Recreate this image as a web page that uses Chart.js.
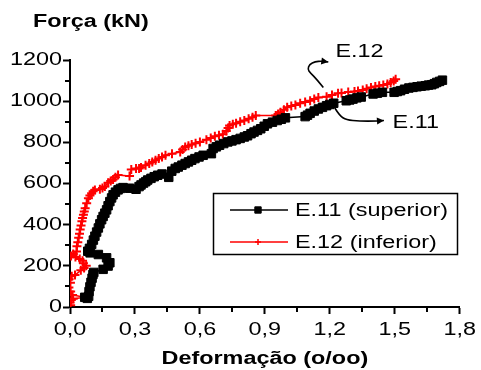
<!DOCTYPE html>
<html>
<head>
<meta charset="utf-8">
<script src="https://cdn.jsdelivr.net/npm/chart.js@4/dist/chart.umd.min.js"></script>
<style>
  html, body { margin: 0; padding: 0; background: #fff; }
  canvas { display: block; }
</style>
</head>
<body>
<canvas id="grafico" width="481" height="370"></canvas>
<script>
// E.11 (superior): deformação (o/oo) x força (kN)
const e11Deformacao = [0.068,0.080,0.086,0.088,0.092,0.097,0.102,0.106,0.110,0.153,0.176,0.184,0.169,0.131,0.093,0.082,0.090,0.100,0.108,0.115,0.123,0.131,0.138,0.146,0.153,0.161,0.169,0.176,0.184,0.192,0.199,0.210,0.222,0.233,0.245,0.275,0.305,0.319,0.328,0.340,0.350,0.359,0.374,0.389,0.405,0.425,0.456,0.470,0.486,0.500,0.517,0.532,0.547,0.562,0.577,0.596,0.615,0.653,0.661,0.676,0.691,0.710,0.729,0.748,0.767,0.786,0.805,0.820,0.836,0.850,0.866,0.881,0.897,0.912,0.935,0.957,0.976,0.995,1.086,1.097,1.109,1.128,1.147,1.166,1.185,1.200,1.218,1.276,1.292,1.307,1.325,1.345,1.400,1.420,1.443,1.497,1.512,1.527,1.545,1.565,1.584,1.603,1.622,1.641,1.656,1.671,1.683,1.694,1.707,1.720];
const e11Forca = [47,42,52,75,98,120,140,158,168,183,199,215,239,255,263,271,285,304,325,344,364,384,404,424,440,456,472,492,512,530,545,558,569,576,580,577,572,585,593,602,609,617,625,633,640,646,630,660,673,680,689,697,705,713,721,729,737,745,770,778,786,794,802,807,813,819,826,832,842,850,858,866,878,890,898,906,912,919,925,932,941,952,962,970,978,984,990,1002,1006,1010,1016,1020,1035,1039,1043,1043,1047,1051,1058,1064,1067,1070,1073,1075,1078,1080,1085,1091,1096,1102];

// E.12 (inferior): deformação (o/oo) x força (kN)
const e12Deformacao = [0.003,0.000,0.006,0.015,0.070,0.012,0.003,-0.005,0.002,-0.004,0.008,0.023,0.050,0.065,0.075,0.062,0.058,0.045,0.025,0.005,-0.008,0.015,0.030,0.032,0.036,0.040,0.044,0.047,0.051,0.055,0.058,0.062,0.066,0.070,0.077,0.085,0.092,0.100,0.107,0.115,0.138,0.150,0.161,0.176,0.188,0.199,0.210,0.222,0.275,0.283,0.305,0.319,0.328,0.349,0.366,0.380,0.395,0.410,0.425,0.441,0.471,0.509,0.520,0.532,0.547,0.562,0.580,0.600,0.630,0.650,0.669,0.688,0.706,0.722,0.730,0.737,0.752,0.767,0.786,0.805,0.825,0.843,0.858,0.950,0.961,0.972,0.988,1.003,1.022,1.041,1.063,1.086,1.109,1.128,1.147,1.185,1.210,1.238,1.254,1.285,1.314,1.330,1.352,1.370,1.390,1.410,1.428,1.447,1.466,1.481,1.495,1.504];
const e12Forca = [8,22,34,40,47,58,75,95,118,135,150,155,178,190,200,212,225,233,243,248,250,258,270,295,315,336,356,376,396,416,432,448,464,480,504,528,542,553,562,569,572,578,585,604,612,620,630,641,636,668,673,673,678,689,697,705,713,721,729,737,745,753,765,777,784,790,796,802,813,821,829,834,839,855,870,882,888,893,900,906,914,922,930,930,938,946,958,970,976,981,990,996,1002,1010,1018,1022,1030,1038,1040,1044,1047,1050,1054,1060,1067,1071,1075,1079,1083,1091,1098,1107];

const seriesLabels = ['E.11 (superior)', 'E.12 (inferior)'];
const xTickValues = [0, 0.3, 0.6, 0.9, 1.2, 1.5, 1.8];
const yTickValues = [0, 200, 400, 600, 800, 1000, 1200];
const xMinorTicks = [0.15, 0.45, 0.75, 1.05, 1.35, 1.65];
const yMinorTicks = [100, 300, 500, 700, 900, 1100];
const yTitle = 'Força (kN)';
const xTitle = 'Deformação (o/oo)';

// callout labels with their curved leader arrows (data units)
const e12Callout = { text: 'E.12', at: [1.226, 1239],
  path: [[1.170,1066],[1.139,1107],[1.109,1139],[1.098,1155],[1.106,1179],[1.132,1192],[1.162,1195],[1.193,1190]] };
const e11Callout = { text: 'E.11', at: [1.490, 892],
  path: [[1.223,967],[1.245,930],[1.276,909],[1.337,903],[1.413,903],[1.450,906]] };

const FONT = '"Liberation Sans", Arial, sans-serif';
const TEXT_STRETCH = 1.3;

const canvas = document.getElementById('grafico');
const ctx = canvas.getContext('2d');

// wide lettering: every string is drawn horizontally stretched around its anchor
const nativeFill = ctx.fillText;
const nativeMeasure = ctx.measureText;
ctx.fillText = function (text, x, y) {
  this.save();
  this.translate(x, y);
  this.scale(TEXT_STRETCH, 1);
  nativeFill.call(this, text, 0, 0);
  this.restore();
};
ctx.measureText = function (text) {
  const m = nativeMeasure.call(this, text);
  return {
    width: m.width * TEXT_STRETCH,
    actualBoundingBoxAscent: m.actualBoundingBoxAscent,
    actualBoundingBoxDescent: m.actualBoundingBoxDescent,
    actualBoundingBoxLeft: m.actualBoundingBoxLeft * TEXT_STRETCH,
    actualBoundingBoxRight: m.actualBoundingBoxRight * TEXT_STRETCH
  };
};

const toPoints = (xs, ys) => xs.map((x, i) => ({ x, y: ys[i] }));
const fmtComma = v => Number(v).toFixed(1).replace('.', ',');

function smoothPath(c, pts) {
  c.beginPath();
  c.moveTo(pts[0][0], pts[0][1]);
  for (let i = 1; i < pts.length - 1; i++) {
    const mx = (pts[i][0] + pts[i + 1][0]) / 2;
    const my = (pts[i][1] + pts[i + 1][1]) / 2;
    c.quadraticCurveTo(pts[i][0], pts[i][1], mx, my);
  }
  const last = pts[pts.length - 1];
  c.lineTo(last[0], last[1]);
  c.stroke();
}

function arrowHead(c, from, to, len, half) {
  const a = Math.atan2(to[1] - from[1], to[0] - from[0]);
  c.beginPath();
  c.moveTo(to[0], to[1]);
  c.lineTo(to[0] - len * Math.cos(a) + half * Math.sin(a), to[1] - len * Math.sin(a) - half * Math.cos(a));
  c.lineTo(to[0] - len * Math.cos(a) - half * Math.sin(a), to[1] - len * Math.sin(a) + half * Math.cos(a));
  c.closePath();
  c.fill();
}

const extras = {
  id: 'extras',
  afterDraw(chart) {
    const c = chart.ctx;
    const xs = chart.scales.x, ys = chart.scales.y;
    const area = chart.chartArea;
    const px = p => [xs.getPixelForValue(p[0]), ys.getPixelForValue(p[1])];
    c.save();
    c.strokeStyle = '#000';
    c.fillStyle = '#000';

    // minor tick marks
    c.lineWidth = 2;
    c.beginPath();
    xMinorTicks.forEach(v => {
      const x = Math.round(xs.getPixelForValue(v));
      c.moveTo(x, area.bottom); c.lineTo(x, area.bottom + 5);
    });
    yMinorTicks.forEach(v => {
      const y = Math.round(ys.getPixelForValue(v));
      c.moveTo(area.left - 5, y); c.lineTo(area.left, y);
    });
    c.stroke();

    // axis title for forces, set horizontally above the axis
    c.font = 'bold 18px ' + FONT;
    c.textAlign = 'left';
    c.textBaseline = 'middle';
    c.fillText(yTitle, 33, 22);

    // callouts
    c.lineWidth = 1.6;
    c.font = '18px ' + FONT;
    [e12Callout, e11Callout].forEach(cl => {
      const pts = cl.path.map(px);
      smoothPath(c, pts);
      arrowHead(c, pts[pts.length - 2], pts[pts.length - 1], 7, 3.5);
      const t = px(cl.at);
      c.fillText(cl.text, t[0], t[1]);
    });

    // legend box
    const bx = 213, by = 193, bw = 244, bh = 61;
    c.lineWidth = 1.5;
    c.strokeRect(bx + 0.5, by + 0.5, bw, bh);
    chart.data.datasets.forEach((ds, i) => {
      const rowY = by + 17 + i * 32;
      c.strokeStyle = ds.borderColor;
      c.lineWidth = 1.5;
      c.beginPath();
      c.moveTo(230, rowY); c.lineTo(288, rowY);
      c.stroke();
      c.fillStyle = ds.pointBackgroundColor;
      c.strokeStyle = ds.pointBorderColor;
      c.lineWidth = i === 0 ? 1 : 1.5;
      Chart.helpers.drawPoint(c, {
        pointStyle: ds.pointStyle,
        radius: i === 0 ? 4.5 : 3,
        borderWidth: c.lineWidth,
        rotation: 0
      }, 258, rowY);
      c.fillStyle = '#000';
      c.font = '18px ' + FONT;
      c.textAlign = 'left';
      c.textBaseline = 'middle';
      c.fillText(ds.label, 295, rowY + 1);
    });
    c.restore();
  }
};

Chart.defaults.font.family = FONT;
Chart.defaults.color = '#000';

new Chart(ctx, {
  type: 'scatter',
  data: {
    datasets: [
      {
        label: seriesLabels[0],
        data: toPoints(e11Deformacao, e11Forca),
        showLine: true,
        borderColor: '#000',
        borderWidth: 1.5,
        pointStyle: 'rect',
        pointRadius: 6,
        pointBorderWidth: 1,
        pointBackgroundColor: '#000',
        pointBorderColor: '#000',
        order: 1
      },
      {
        label: seriesLabels[1],
        data: toPoints(e12Deformacao, e12Forca),
        showLine: true,
        borderColor: '#ff0000',
        borderWidth: 1.5,
        pointStyle: 'cross',
        pointRadius: 4.5,
        pointBorderWidth: 2,
        pointBackgroundColor: '#ff0000',
        pointBorderColor: '#ff0000',
        order: 2
      }
    ]
  },
  options: {
    responsive: false,
    animation: false,
    events: [],
    layout: { padding: { left: 0, right: 16, top: 60, bottom: 0 } },
    plugins: {
      legend: { display: false },
      tooltip: { enabled: false },
      title: { display: false }
    },
    scales: {
      x: {
        type: 'linear',
        min: 0,
        max: 1.8,
        afterBuildTicks: s => { s.ticks = xTickValues.map(v => ({ value: v })); },
        afterFit: s => { s.height = 63; },
        border: { display: true, color: '#000', width: 2 },
        grid: { drawOnChartArea: false, drawTicks: true, tickLength: 7, tickWidth: 2, tickColor: '#000' },
        ticks: { font: { size: 18 }, padding: 5, maxRotation: 0, autoSkip: false, callback: v => fmtComma(v) },
        title: { display: true, text: xTitle, font: { size: 18, weight: 'bold' }, padding: { top: 0, bottom: 0 } }
      },
      y: {
        type: 'linear',
        min: 0,
        max: 1200,
        afterBuildTicks: s => { s.ticks = yTickValues.map(v => ({ value: v })); },
        afterFit: s => { s.width = 70; },
        border: { display: true, color: '#000', width: 2 },
        grid: { drawOnChartArea: false, drawTicks: true, tickLength: 7, tickWidth: 2, tickColor: '#000' },
        ticks: { font: { size: 18 }, padding: 1, autoSkip: false, callback: v => String(v) }
      }
    }
  },
  plugins: [extras]
});
</script>
</body>
</html>
